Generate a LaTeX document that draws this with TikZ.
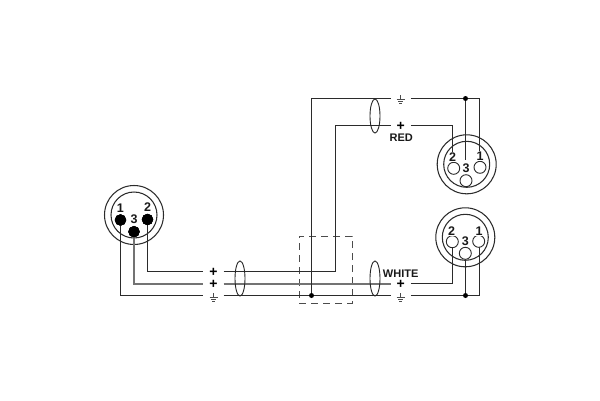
\documentclass[tikz,border=0pt]{standalone}
\usepackage{fontspec}
\setmainfont{Liberation Sans}
\usetikzlibrary{calc,shapes.geometric}
\definecolor{wirec}{gray}{0.17}
\newcommand{\plussign}{\raisebox{-4.6pt}[0pt][0pt]{+}}
\tikzset{
  x=1pt,y=-1pt,
  wire/.style={draw=wirec,line width=1.1pt},
  wiregray/.style={draw=black!55,line width=1.3pt},
  ring/.style={circle,draw=wirec,line width=1.05pt,inner sep=0pt,fill=none},
  pinblack/.style={circle,fill=black,draw=black,inner sep=0pt,minimum size=11pt},
  pinwhite/.style={circle,fill=white,draw=wirec,line width=0.9pt,inner sep=0pt,minimum size=12pt},
  num/.style={font=\bfseries\fontsize{12.5}{12.5}\selectfont,inner sep=0pt,text=black!90},
  captext/.style={font=\bfseries\fontsize{11}{11}\selectfont,inner sep=0pt,text=black!90},
  sym/.style={inner sep=0pt,minimum width=20pt,minimum height=8pt,font=\bfseries\fontsize{14}{14}\selectfont,text=black},
  shield/.style={ellipse,draw=black!85,line width=0.9pt,inner sep=0pt,fill=none},
  jdot/.style={circle,fill=black,inner sep=0pt,minimum size=5pt},
  gbars/.pic={
    \draw[black!70,line width=0.7pt] (0,-4.5) -- (0,-0.5);
    \draw[black!70,line width=0.8pt] (-4,-0.5) -- (4,-0.5) (-2.7,1.7) -- (2.7,1.7) (-1.3,3.9) -- (1.3,3.9);
  }
}
\begin{document}
\begin{tikzpicture}
\useasboundingbox (0,0) rectangle (600,400);
\fill[white] (0,0) rectangle (600,400);

% dashed box
\node[draw=black!70,line width=1pt,dash pattern=on 7pt off 5pt,inner sep=0pt,minimum width=53pt,minimum height=67pt] (box) at (325.5,269.5) {};

% symbols
\node[sym] (pLa) at (213.5,271.5) {\plussign};
\node[sym] (pLb) at (213.5,284) {\plussign};
\node[sym] (gL) at (213.5,295.5) {};
\node[sym] (gT) at (400.7,98.5) {};
\node[sym] (pRed) at (400.7,125.5) {\plussign};
\node[sym] (pW) at (400.7,283.5) {\plussign};
\node[sym] (gW) at (400.7,295.5) {};
\pic at (213.5,297.5) {gbars};
\pic at (400.7,99.5) {gbars};
\pic at (400.7,297.5) {gbars};

\node[captext] (red) at (401.3,138) {RED};
\node[captext] (white) at (400.7,273.5) {WHITE};

% connectors
\node[ring,minimum size=59pt] (Lo) at (134,215) {};
\node[ring,minimum size=46pt] (Li) at (134,215) {};
\node[ring,minimum size=59pt] (To) at (466.7,164.3) {};
\node[ring,minimum size=46pt] (Ti) at (466.7,164.3) {};
\node[ring,minimum size=59pt] (Bo) at (465.3,237.3) {};
\node[ring,minimum size=46pt] (Bi) at (465.3,237.3) {};

% pins
\node[pinblack] (L1) at (120.5,220) {};
\node[pinblack] (L2) at (147.5,219.5) {};
\node[pinblack] (L3) at (134,231.7) {};

% junctions and bends
\node[jdot] (j1) at (311.5,295.5) {};
\node[jdot] (j2) at (465.5,98.5) {};
\node[jdot] (j3) at (465.5,295.5) {};
\coordinate (bend) at (335.5,271.5);
\coordinate (wT1) at (479.5,167);
\coordinate (wT2) at (452.5,168);
\coordinate (wB2) at (452.5,241.7);
\coordinate (wB1) at (479.5,241.3);

% wires
\draw[wire] (L2.center) |- (pLa.west);
\draw[wiregray] (L3.center) |- (pLb.west);
\draw[wire] (L1.center) |- (gL.west);
\draw[wire] (pLa.east) -- (bend) -- (bend |- pRed) -- (pRed.west);
\draw[wiregray] (pLb.east) -- (pLb.east -| pW.west);
\draw[wire] (gL.east) -- (j1) -- (gW.west);
\draw[wire] (j1) -- (j1 |- gT) -- (gT.west);
\draw[wire] (gT.east) -- (j2) -- (j2 -| wT1) -- (wT1);
\draw[wire] (j2) -- (465.5,160);
\draw[wire] (pRed.east) -- (pRed.east -| wT2) -- (wT2);
\draw[wire] (pW.east) -- (pW.east -| wB2) -- (wB2);
\draw[wire] (gW.east) -- (j3) -- (j3 -| wB1) -- (wB1);
\draw[wire] (j3) -- (465.5,253.3);

\node[pinwhite] (T1) at (480,167.3) {};
\node[pinwhite] (T2) at (453.7,168.3) {};
\node[pinwhite] (T3) at (466,180.7) {};
\node[pinwhite] (B1) at (478.7,241.3) {};
\node[pinwhite] (B2) at (452.3,241.7) {};
\node[pinwhite] (B3) at (465.3,253.3) {};
\node[pinblack] at (L1) {};
\node[pinblack] at (L2) {};
\node[pinblack] at (L3) {};

% shields
\node[shield,minimum width=10pt,minimum height=35pt] (s1) at (240,278.5) {};
\node[shield,minimum width=10pt,minimum height=34pt] (s2) at (375,116) {};
\node[shield,minimum width=10pt,minimum height=35pt] (s3) at (375,278.5) {};

% numbers
\node[num,fill=white,inner sep=0.5pt] at (120.3,208.3) {1};
\node[num,fill=white,inner sep=0.5pt] at (147.7,207.3) {2};
\node[num] at (134,218.7) {3};
\node[num,fill=white,inner sep=0.5pt] at (452.7,156.7) {2};
\node[num,fill=white,inner sep=0.5pt] at (480,156) {1};
\node[num,fill=white,inner sep=0.5pt] at (466,168) {3};
\node[num,fill=white,inner sep=0.5pt] at (451.7,230.7) {2};
\node[num,fill=white,inner sep=0.5pt] at (479,230.7) {1};
\node[num] at (465.3,241.3) {3};
\end{tikzpicture}
\end{document}
